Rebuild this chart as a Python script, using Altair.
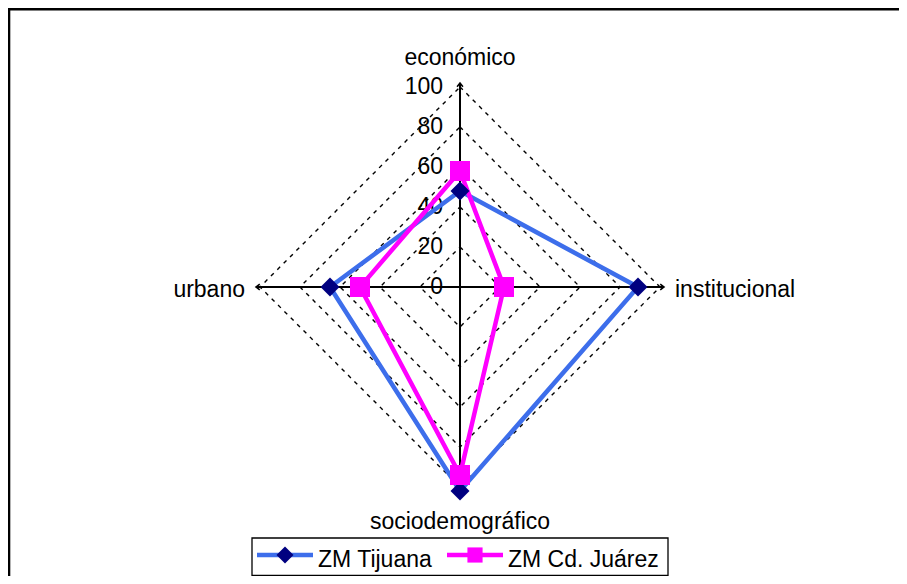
import altair as alt
import pandas as pd

# ---------------- data ----------------
categories = ["económico", "institucional", "sociodemográfico", "urbano"]
tijuana = [48, 89, 102, 65]
juarez = [58, 22, 94, 50]
series_names = ["ZM Tijuana", "ZM Cd. Juárez"]
grid_levels = [20, 40, 60, 80, 100]
tick_labels = [0, 20, 40, 60, 80, 100]

# ---------------- styles ----------------
line_colors = ["#3D6EEB", "#FF00FF"]
marker_colors = ["#000080", "#FF00FF"]
marker_shapes = ["diamond", "square"]
marker_sizes = [360, 400]
legend_sizes = [290, 230]
FONT = "Liberation Sans"
FS = 23
W, H = 891, 568
XDOM = [-226, 219.5]
YDOM = [-144.5, 139.5]
N = len(categories)

xs = alt.Scale(domain=XDOM, nice=False, zero=False)
ys = alt.Scale(domain=YDOM, nice=False, zero=False)


def X(f):
    return alt.X(f, type="quantitative", scale=xs, axis=None)


def Y(f):
    return alt.Y(f, type="quantitative", scale=ys, axis=None)


# series table
rows = []
for s, vals in zip(series_names, [tijuana, juarez]):
    for i in range(N + 1):
        rows.append({"series": s, "idx": i % N, "ord": i, "cat": categories[i % N], "value": vals[i % N]})
series_df = pd.DataFrame(rows)

# grid table
grows = []
for lv in grid_levels:
    for i in range(N + 1):
        grows.append({"level": lv, "idx": i % N, "ord": i})
grid_df = pd.DataFrame(grows)

cat_df = pd.DataFrame({"cat": categories, "idx": list(range(N))})
tick_df = pd.DataFrame({"level": tick_labels, "lab": [str(t) for t in tick_labels]})

base_series = alt.Chart(series_df).transform_calculate(
    ang="2 * PI * datum.idx / %d" % N
).transform_calculate(
    x="datum.value * sin(datum.ang)", y="datum.value * cos(datum.ang)"
)

# gridlines (dashed diamonds)
grid = alt.Chart(grid_df).transform_calculate(
    ang="2 * PI * datum.idx / %d" % N
).transform_calculate(
    x="datum.level * sin(datum.ang)", y="datum.level * cos(datum.ang)"
).mark_line(color="black", strokeWidth=1.4, strokeDash=[4, 5]).encode(
    x=X("x"), y=Y("y"), detail="level:N", order="ord:Q"
)

# axis spokes
spokes = alt.Chart(cat_df).transform_calculate(
    ang="2 * PI * datum.idx / %d" % N
).transform_calculate(
    x0="0", y0="0", x1="102 * sin(datum.ang)", y1="102 * cos(datum.ang)",
    rot="datum.idx * 90"
)
spoke_lines = spokes.mark_rule(color="black", strokeWidth=2).encode(
    x=X("x0"), y=Y("y0"), x2="x1:Q", y2="y1:Q"
)
arrows = spokes.mark_point(
    shape="M-0.7,0.9L0,0L0.7,0.9", filled=False, color="black", strokeWidth=1.6,
    size=70, opacity=1
).encode(x=X("x1"), y=Y("y1"), angle=alt.Angle("rot:Q", scale=None))

# category labels
cat_base = alt.Chart(cat_df).transform_calculate(
    ang="2 * PI * datum.idx / %d" % N
).transform_calculate(
    lx="107.5 * sin(datum.ang)", ly="116 * cos(datum.ang) - 1.5"
)
cat_center = cat_base.transform_filter("datum.idx % 2 == 0").mark_text(
    align="center", baseline="middle", font=FONT, fontSize=FS, color="black"
).encode(x=X("lx"), y=Y("ly"), text="cat:N")
cat_left = cat_base.transform_filter("datum.idx == 1").mark_text(
    align="left", baseline="middle", font=FONT, fontSize=FS, color="black"
).encode(x=X("lx"), y=Y("ly"), text="cat:N")
cat_right = cat_base.transform_filter("datum.idx == 3").mark_text(
    align="right", baseline="middle", font=FONT, fontSize=FS, color="black"
).encode(x=X("lx"), y=Y("ly"), text="cat:N")

# radial tick labels
ticks = alt.Chart(tick_df).transform_calculate(lx="-8.5").mark_text(
    align="right", baseline="middle", font=FONT, fontSize=FS, color="black"
).encode(x=X("lx"), y=Y("level"), text="lab:N")

layers = [grid, spoke_lines, arrows, ticks, cat_center, cat_left, cat_right]

# series lines
for s, lc in zip(series_names, line_colors):
    layers.append(
        base_series.transform_filter(alt.datum.series == s).mark_line(
            color=lc, strokeWidth=4.5
        ).encode(x=X("x"), y=Y("y"), order="ord:Q")
    )
# series markers
for s, mc, sh, sz in zip(series_names, marker_colors, marker_shapes, marker_sizes):
    layers.append(
        base_series.transform_filter((alt.datum.series == s) & (alt.datum.ord < N)).mark_point(
            shape=sh, filled=True, color=mc, size=sz, opacity=1
        ).encode(x=X("x"), y=Y("y"))
    )

# legend (built from series names)
leg_df = pd.DataFrame({"series": series_names, "k": [0, 1]})
leg_box = alt.Chart(pd.DataFrame({"a": [0]})).transform_calculate(
    bx1="-104", bx2="104", by1="-125.5", by2="-144.2"
).mark_rect(fill="white", stroke="black", strokeWidth=1.3).encode(
    x=X("bx1"), x2="bx2:Q", y=Y("by1"), y2="by2:Q"
)
layers.append(leg_box)
leg_base = alt.Chart(leg_df).transform_calculate(
    lx1="-101.5 + datum.k * 95", lx2="-73.5 + datum.k * 95",
    mx="-87.5 + datum.k * 95", tx="-71 + datum.k * 95",
    ly="-134", ty="-136.5"
)
for s, lc, mc, sh, sz in zip(series_names, line_colors, marker_colors, marker_shapes, legend_sizes):
    b = leg_base.transform_filter(alt.datum.series == s)
    layers.append(b.mark_rule(color=lc, strokeWidth=4.5).encode(x=X("lx1"), x2="lx2:Q", y=Y("ly")))
    layers.append(b.mark_point(shape=sh, filled=True, color=mc, size=sz, opacity=1).encode(x=X("mx"), y=Y("ly")))
layers.append(
    leg_base.mark_text(align="left", baseline="middle", font=FONT, fontSize=FS, color="black").encode(
        x=X("tx"), y=Y("ty"), text="series:N"
    )
)

# frame (top and left edges)
frame_top = alt.Chart(pd.DataFrame({"a": [0]})).mark_rule(color="black", strokeWidth=2.6).encode(
    x=alt.value(0), x2=alt.value(W), y=alt.value(1.3)
)
frame_left = alt.Chart(pd.DataFrame({"a": [0]})).mark_rule(color="black", strokeWidth=2.6).encode(
    x=alt.value(1), y=alt.value(0), y2=alt.value(H)
)
layers += [frame_top, frame_left]

chart = alt.layer(*layers).properties(
    width=W, height=H, padding=0, autosize=alt.AutoSizeParams(type="none"),
    background="white"
).configure_view(stroke=None)

chart.save("out.html", embed_options={"renderer": "svg", "actions": False})
